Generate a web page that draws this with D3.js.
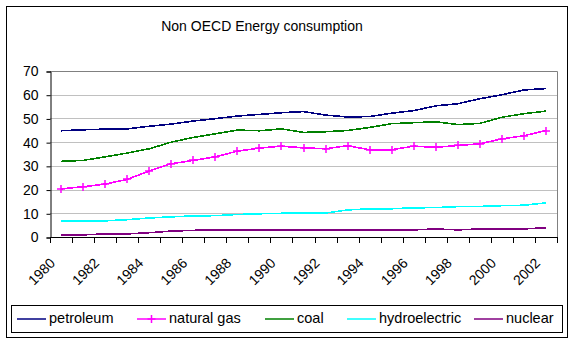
<!DOCTYPE html>
<html>
<head>
<meta charset="utf-8">
<script src="https://cdn.jsdelivr.net/npm/d3@7"></script>
<style>
  body { margin: 0; background: #fff; }
  svg text { font-family: "Liberation Sans", Arial, sans-serif; fill: #000; }
</style>
</head>
<body>
<div id="chart"></div>
<script>
// energy use by source, 1980-2002
var years = d3.range(1980, 2003);
var petroleum = [44.8, 45.2, 45.5, 45.6, 46.7, 47.6, 48.9, 49.9, 51.0, 51.7, 52.4, 52.9, 51.4, 50.6, 50.8, 52.2, 53.3, 55.3, 56.2, 58.3, 60.0, 62.0, 62.6];
var naturalGas = [20.3, 21.2, 22.3, 24.3, 27.8, 30.9, 32.3, 33.8, 36.2, 37.5, 38.3, 37.6, 37.2, 38.5, 36.8, 36.8, 38.3, 37.8, 38.6, 39.3, 41.4, 42.7, 44.9];
var coal = [31.9, 32.3, 33.8, 35.4, 37.2, 40.0, 42.0, 43.5, 45.1, 44.8, 45.6, 44.1, 44.4, 44.9, 46.2, 47.8, 48.2, 48.6, 47.4, 47.9, 50.5, 52.0, 53.1];
var hydroelectric = [6.8, 6.8, 6.8, 7.3, 8.0, 8.5, 8.9, 9.0, 9.5, 9.8, 10.0, 10.0, 10.1, 11.4, 11.9, 11.9, 12.3, 12.4, 12.8, 12.9, 13.2, 13.4, 14.4];
var nuclear = [0.9, 0.9, 1.3, 1.3, 1.8, 2.5, 2.8, 3.0, 3.0, 3.0, 3.0, 3.0, 3.0, 3.0, 3.0, 3.0, 3.0, 3.4, 3.0, 3.4, 3.4, 3.4, 3.9];
var yTicks = [0, 10, 20, 30, 40, 50, 60, 70];

var series = [
  {name: "petroleum", values: petroleum, color: "#000080"},
  {name: "natural gas", values: naturalGas, color: "#ff00ff", marker: true},
  {name: "coal", values: coal, color: "#008000"},
  {name: "hydroelectric", values: hydroelectric, color: "#00ffff"},
  {name: "nuclear", values: nuclear, color: "#800080"}
];

var width = 575, height = 343;
var plot = {left: 50, right: 557, top: 71, bottom: 237};

var svg = d3.select('#chart').append('svg')
  .attr('width', width)
  .attr('height', height);

// outer frame
svg.append('rect')
  .attr('x', 6.5).attr('y', 6.5)
  .attr('width', 561).attr('height', 331)
  .attr('fill', '#fff').attr('stroke', '#000');

svg.append('text')
  .attr('x', 262).attr('y', 31)
  .attr('text-anchor', 'middle')
  .attr('font-size', 14)
  .text('Non OECD Energy consumption');

var x = d3.scaleBand().domain(years).range([plot.left, plot.right]);
var y = d3.scaleLinear().domain([0, 70]).range([plot.bottom, plot.top]);
var cx = function(i) { return x(years[i]) + x.bandwidth() / 2; };

// gridlines
svg.append('g').selectAll('line')
  .data(yTicks.filter(function(t) { return t > 0 && t < 70; }))
  .enter().append('line')
  .attr('x1', plot.left).attr('x2', plot.right)
  .attr('y1', function(d) { return Math.round(y(d)) + 0.5; })
  .attr('y2', function(d) { return Math.round(y(d)) + 0.5; })
  .attr('stroke', '#c0c0c0');

// plot area border (top + right)
svg.append('path')
  .attr('d', 'M' + plot.left + ',' + (plot.top + 0.5) + 'H' + (plot.right + 0.5) + 'V' + plot.bottom)
  .attr('fill', 'none').attr('stroke', '#808080');

// y axis
var yAxis = d3.axisLeft(y).tickValues(yTicks).tickSize(4).tickPadding(8);
var yg = svg.append('g')
  .attr('transform', 'translate(' + (plot.left + 0.5) + ',0.5)')
  .call(yAxis);
yg.selectAll('text').attr('font-size', 14).style('font-family', '"Liberation Sans", Arial, sans-serif');
yg.selectAll('line, path').attr('stroke', '#000');

// x axis: ticks between categories, labels every other year
var xg = svg.append('g');
xg.append('line')
  .attr('x1', plot.left).attr('x2', plot.right + 1)
  .attr('y1', plot.bottom + 0.5).attr('y2', plot.bottom + 0.5)
  .attr('stroke', '#000');
xg.selectAll('.tick')
  .data(years.concat([2003]))
  .enter().append('line')
  .attr('class', 'tick')
  .attr('x1', function(d, i) { return Math.round(plot.left + i * x.bandwidth()) + 0.5; })
  .attr('x2', function(d, i) { return Math.round(plot.left + i * x.bandwidth()) + 0.5; })
  .attr('y1', plot.bottom).attr('y2', plot.bottom + 6)
  .attr('stroke', '#000');
xg.selectAll('.lbl')
  .data(years.filter(function(d) { return d % 2 === 0; }))
  .enter().append('text')
  .attr('class', 'lbl')
  .attr('font-size', 14)
  .attr('text-anchor', 'end')
  .attr('transform', function(d) {
    return 'translate(' + (x(d) + x.bandwidth() / 2 - 5) + ',' + (plot.bottom + 27) + ') rotate(-45)';
  })
  .text(function(d) { return d; });

// series lines
var line = d3.line()
  .x(function(d, i) { return cx(i); })
  .y(function(d) { return y(d); });

series.forEach(function(s) {
  svg.append('path')
    .datum(s.values)
    .attr('d', line)
    .attr('fill', 'none')
    .attr('stroke', s.color)
    .attr('stroke-width', 1.6)
    .attr('shape-rendering', 'crispEdges');
  if (s.marker) {
    svg.append('g').selectAll('path')
      .data(s.values)
      .enter().append('path')
      .attr('d', function(d, i) {
        var px = Math.round(cx(i)), py = Math.round(y(d));
        return 'M' + (px - 4) + ',' + py + 'H' + (px + 4) + 'M' + px + ',' + (py - 4) + 'V' + (py + 4);
      })
      .attr('stroke', s.color)
      .attr('stroke-width', 1.5);
  }
});

// legend
var legendX = [17, 137, 265, 347, 474];
var lg = svg.append('g');
lg.append('rect')
  .attr('x', 11.5).attr('y', 305.5)
  .attr('width', 551).attr('height', 27)
  .attr('fill', 'none').attr('stroke', '#000');
series.forEach(function(s, i) {
  var lx = legendX[i];
  lg.append('line')
    .attr('x1', lx).attr('x2', lx + 29)
    .attr('y1', 319).attr('y2', 319)
    .attr('stroke', s.color).attr('stroke-width', 1.5);
  if (s.marker) {
    lg.append('path')
      .attr('d', 'M' + (lx + 10.5) + ',319H' + (lx + 18.5) + 'M' + (lx + 14.5) + ',315V323')
      .attr('stroke', s.color).attr('stroke-width', 1.5);
  }
  lg.append('text')
    .attr('x', lx + 32).attr('y', 323)
    .attr('font-size', 14.5)
    .text(s.name);
});
</script>
</body>
</html>
